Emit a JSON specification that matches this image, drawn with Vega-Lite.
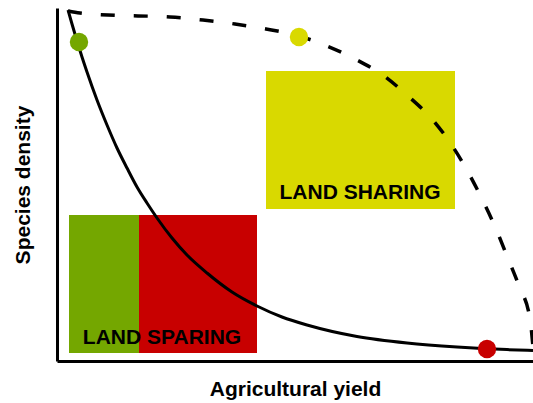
{
  "$schema": "https://vega.github.io/schema/vega-lite/v6.json",
  "width": 476,
  "height": 353,
  "autosize": {"type": "none"},
  "padding": {"left": 57, "top": 8, "right": 0, "bottom": 42},
  "config": {"view": {"stroke": null}, "font": "Liberation Sans"},
  "layer": [
    {
      "data": {"values": [
        {"zone": "sparing-green", "x": 12, "x2": 82, "y": 8, "y2": 146},
        {"zone": "sparing-red", "x": 82, "x2": 200, "y": 8, "y2": 146},
        {"zone": "sharing", "x": 209, "x2": 398, "y": 152, "y2": 290}
      ]},
      "mark": {"type": "rect"},
      "encoding": {
        "x": {"field": "x", "type": "quantitative", "scale": {"domain": [0, 476], "nice": false, "zero": false},
              "axis": {"title": "Agricultural yield", "labels": false, "ticks": false, "grid": false, "domainColor": "#000", "domainWidth": 3, "titleFontSize": 21, "titleFontWeight": "bold", "titleColor": "#000", "titlePadding": 17, "titleFont": "Liberation Sans"}},
        "x2": {"field": "x2"},
        "y": {"field": "y", "type": "quantitative", "scale": {"domain": [0, 353], "nice": false, "zero": false},
              "axis": {"title": "Species density", "labels": false, "ticks": false, "grid": false, "domainColor": "#000", "domainWidth": 3, "titleFontSize": 21, "titleFontWeight": "bold", "titleColor": "#000", "titlePadding": 24, "titleFont": "Liberation Sans"}},
        "y2": {"field": "y2"},
        "color": {"field": "zone", "type": "nominal", "legend": null,
                  "scale": {"domain": ["sparing-green", "sparing-red", "sharing"], "range": ["#74a700", "#c80000", "#d9d900"]}}
      }
    },
    {
      "data": {"values": [
        {"x": 11, "y": 351}, {"x": 15, "y": 337}, {"x": 20, "y": 320}, {"x": 25, "y": 304},
        {"x": 30, "y": 289}, {"x": 40, "y": 261}, {"x": 50, "y": 236}, {"x": 60, "y": 213},
        {"x": 70, "y": 193}, {"x": 80, "y": 174}, {"x": 90, "y": 158}, {"x": 100, "y": 143},
        {"x": 115, "y": 123}, {"x": 130, "y": 106}, {"x": 150, "y": 88}, {"x": 175, "y": 69},
        {"x": 200, "y": 55}, {"x": 225, "y": 44}, {"x": 250, "y": 36}, {"x": 300, "y": 24.5},
        {"x": 350, "y": 18}, {"x": 400, "y": 14}, {"x": 450, "y": 11.4}, {"x": 476, "y": 10.6}
      ]},
      "mark": {"type": "line", "color": "#000", "strokeWidth": 3, "interpolate": "monotone"},
      "encoding": {
        "x": {"field": "x", "type": "quantitative"},
        "y": {"field": "y", "type": "quantitative"}
      }
    },
    {
      "data": {"values": [
        {"x": 11, "y": 350}, {"x": 23, "y": 348}, {"x": 51, "y": 346}, {"x": 113, "y": 344},
        {"x": 146, "y": 341}, {"x": 178, "y": 337}, {"x": 209, "y": 332}, {"x": 242, "y": 325},
        {"x": 270, "y": 315}, {"x": 298, "y": 302}, {"x": 327, "y": 285}, {"x": 351, "y": 265},
        {"x": 375, "y": 242}, {"x": 394, "y": 217}, {"x": 411, "y": 189}, {"x": 425, "y": 162},
        {"x": 439, "y": 132}, {"x": 450, "y": 105}, {"x": 462, "y": 75}, {"x": 473, "y": 42},
        {"x": 476, "y": 14}
      ]},
      "mark": {"type": "line", "color": "#000", "strokeWidth": 3.5, "strokeDash": [14, 19], "interpolate": "monotone"},
      "encoding": {
        "x": {"field": "x", "type": "quantitative"},
        "y": {"field": "y", "type": "quantitative"}
      }
    },
    {
      "data": {"values": [
        {"label": "LAND SPARING", "x": 105, "y": 17},
        {"label": "LAND SHARING", "x": 303, "y": 162}
      ]},
      "mark": {"type": "text", "fontSize": 21, "fontWeight": "bold", "color": "#000", "align": "center", "baseline": "alphabetic", "font": "Liberation Sans"},
      "encoding": {
        "x": {"field": "x", "type": "quantitative"},
        "y": {"field": "y", "type": "quantitative"},
        "text": {"field": "label"}
      }
    },
    {
      "data": {"values": [
        {"pt": "green", "x": 22, "y": 319},
        {"pt": "yellow", "x": 242, "y": 324},
        {"pt": "red", "x": 430, "y": 12}
      ]},
      "mark": {"type": "circle", "size": 340, "opacity": 1},
      "encoding": {
        "x": {"field": "x", "type": "quantitative"},
        "y": {"field": "y", "type": "quantitative"},
        "color": {"field": "pt", "type": "nominal", "legend": null,
                  "scale": {"domain": ["green", "yellow", "red"], "range": ["#74a700", "#d9d900", "#c80000"]}}
      }
    }
  ],
  "resolve": {"scale": {"color": "independent"}}
}
